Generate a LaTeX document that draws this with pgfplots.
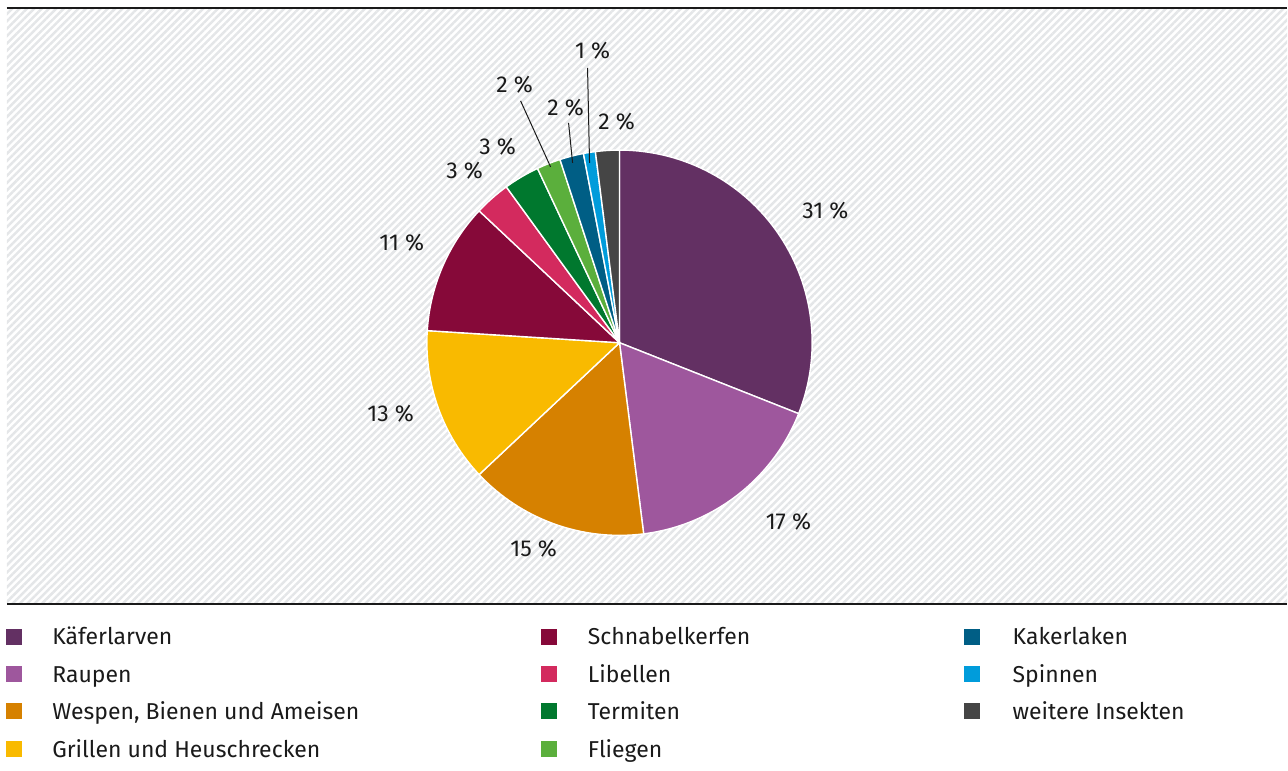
\documentclass[border=0pt]{standalone}
\usepackage{pgfplots}
\pgfplotsset{compat=1.18}
\usepackage{fontspec}
\setmainfont{Fira Sans}
\usetikzlibrary{patterns.meta}
\definecolor{kaefer}{HTML}{633063}
\definecolor{raupen}{HTML}{9E579D}
\definecolor{wespen}{HTML}{D68100}
\definecolor{grillen}{HTML}{F9BA00}
\definecolor{schnabel}{HTML}{860939}
\definecolor{libellen}{HTML}{D32A5E}
\definecolor{termiten}{HTML}{00782E}
\definecolor{fliegen}{HTML}{5BAF3C}
\definecolor{kakerlaken}{HTML}{005E85}
\definecolor{spinnen}{HTML}{009CDB}
\definecolor{weitere}{HTML}{454545}
\definecolor{hatch}{HTML}{E4E6E8}
\definecolor{txt}{HTML}{1A1A1A}
% share in percent / colour
\def\pievalues{31/kaefer,17/raupen,15/wespen,13/grillen,11/schnabel,3/libellen,3/termiten,2/fliegen,2/kakerlaken,1/spinnen,2/weitere}
\begin{document}
\fontsize{11.5}{14}\selectfont
\begin{tikzpicture}[font=\fontsize{11.5}{14}\selectfont]
\begin{axis}[
  scale only axis, width=644pt, height=385.5pt,
  xmin=0, xmax=1288, ymin=0, ymax=771,
  hide axis, clip=false,
]
\path (axis cs:0,0) rectangle (axis cs:1288,771);
% hatched background
\fill[pattern={Lines[angle=45,distance=2.6pt,line width=1.25pt]}, pattern color=hatch]
  (axis cs:7,168) rectangle (axis cs:1288,763);
\draw[line width=1pt, color=txt] (axis cs:7,763) -- (axis cs:1288,763);
\draw[line width=1pt, color=txt] (axis cs:7,167) -- (axis cs:1288,167);
% pie
\xdef\cum{0}
\foreach \v/\c in \pievalues {
  \pgfmathsetmacro\a{90-3.6*\cum}
  \pgfmathsetmacro\b{90-3.6*(\cum+\v)}
  \pgfmathsetmacro\newcum{\cum+\v}
  \xdef\cum{\newcum}
  \edef\tmp{\noexpand\fill[\c, draw=white, line width=0.7pt, line join=round]
    (axis cs:620,428) -- ++(\a:96.4pt) arc[start angle=\a, end angle=\b, radius=96.4pt] -- cycle;}
  \tmp
}
% labels
\tikzset{lbl/.style={font=\fontsize{11.5}{14}\selectfont, text=txt}}
\node[lbl] at (axis cs:826,560) {31 \%};
\node[lbl] at (axis cs:789,249) {17 \%};
\node[lbl] at (axis cs:534,222) {15 \%};
\node[lbl] at (axis cs:391,357) {13 \%};
\node[lbl] at (axis cs:402,528) {11 \%};
\node[lbl] at (axis cs:465,600) {3 \%};
\node[lbl] at (axis cs:498,624) {3 \%};
\node[lbl] at (axis cs:515,686) {2 \%};
\node[lbl] at (axis cs:566,663) {2 \%};
\node[lbl] at (axis cs:593,720) {1 \%};
\node[lbl] at (axis cs:617,649) {2 \%};
\draw[line width=0.5pt, color=txt] (axis cs:521,670) -- (axis cs:551,604);
\draw[line width=0.5pt, color=txt] (axis cs:569,648) -- (axis cs:573,608);
\draw[line width=0.5pt, color=txt] (axis cs:588,703) -- (axis cs:590,608);
% legend
\fill[kaefer]     (axis cs:6,126) rectangle ++(8pt,8pt);
\fill[raupen]     (axis cs:6,88) rectangle ++(8pt,8pt);
\fill[wespen]     (axis cs:6,51) rectangle ++(8pt,8pt);
\fill[grillen]    (axis cs:6,13) rectangle ++(8pt,8pt);
\fill[schnabel]   (axis cs:541,126) rectangle ++(8pt,8pt);
\fill[libellen]   (axis cs:541,88) rectangle ++(8pt,8pt);
\fill[termiten]   (axis cs:541,51) rectangle ++(8pt,8pt);
\fill[fliegen]    (axis cs:541,13) rectangle ++(8pt,8pt);
\fill[kakerlaken] (axis cs:965,126) rectangle ++(8pt,8pt);
\fill[spinnen]    (axis cs:965,88) rectangle ++(8pt,8pt);
\fill[weitere]    (axis cs:965,51) rectangle ++(8pt,8pt);
\tikzset{leg/.style={lbl, anchor=base west, inner sep=0pt}}
\node[leg] at (axis cs:52,126) {Käferlarven};
\node[leg] at (axis cs:52,88.3) {Raupen};
\node[leg] at (axis cs:52,51) {Wespen, Bienen und Ameisen};
\node[leg] at (axis cs:52,13.3) {Grillen und Heuschrecken};
\node[leg] at (axis cs:588,126) {Schnabelkerfen};
\node[leg] at (axis cs:588,88.3) {Libellen};
\node[leg] at (axis cs:588,51) {Termiten};
\node[leg] at (axis cs:588,13.3) {Fliegen};
\node[leg] at (axis cs:1013,126) {Kakerlaken};
\node[leg] at (axis cs:1013,88.3) {Spinnen};
\node[leg] at (axis cs:1013,51) {weitere Insekten};
\end{axis}
\end{tikzpicture}
\end{document}
